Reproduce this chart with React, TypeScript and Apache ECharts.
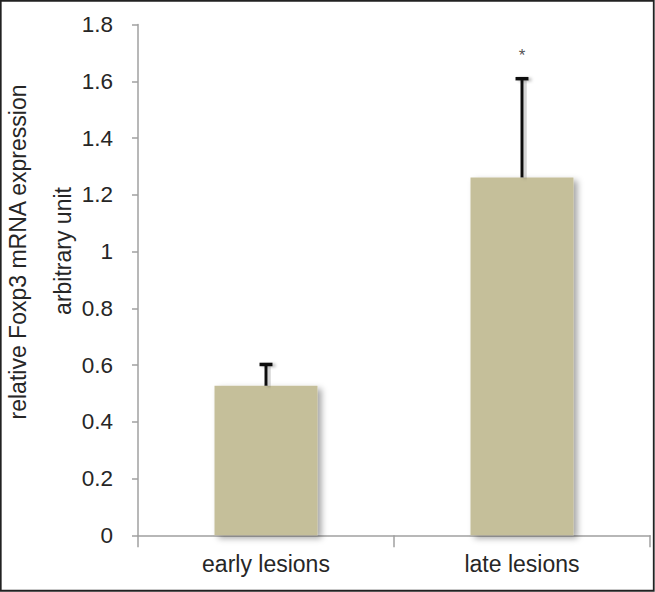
import React, { useEffect, useRef } from "react";
import * as echarts from "echarts";

const categories = ["early lesions", "late lesions"];
const means = [0.527, 1.261];
const upperErrors = [0.602, 1.609];
const significance = ["", "*"];
const significanceY = [0, 1.69];
const yTitleLines = ["relative Foxp3 mRNA expression", "arbitrary unit"];

export default function App() {
  const ref = useRef<HTMLDivElement>(null);
  useEffect(() => {
    if (!ref.current) return;
    const chart = echarts.init(ref.current, null, { renderer: "svg" });
    const font = "'Liberation Sans', Arial, sans-serif";
    const textColor = "#262626";
    const errData = categories.map((c, i) => [c, means[i], upperErrors[i]]);
    const sigData = categories
      .map((c, i) => ({ value: [c, significanceY[i]], mark: significance[i] }))
      .filter((d) => d.mark !== "");
    chart.setOption({
      animation: false,
      backgroundColor: "#ffffff",
      grid: { left: 138, right: 5, top: 24.5, bottom: 56.7, containLabel: false },
      xAxis: {
        type: "category",
        data: categories,
        axisLine: { show: true, lineStyle: { color: "#a0a0a0", width: 1.5 } },
        axisTick: { show: true, length: 12, lineStyle: { color: "#a0a0a0", width: 1.5 } },
        axisLabel: { fontSize: 23, color: textColor, margin: 17, fontFamily: font },
        splitLine: { show: false },
      },
      yAxis: {
        type: "value",
        min: 0,
        max: 1.8,
        interval: 0.2,
        axisLine: { show: true, lineStyle: { color: "#a0a0a0", width: 1.5 } },
        axisTick: { show: true, length: 6, inside: false, lineStyle: { color: "#a0a0a0", width: 1.5 } },
        axisLabel: { fontSize: 22.5, color: textColor, margin: 25, fontFamily: font },
        splitLine: { show: false },
      },
      series: [
        {
          type: "bar",
          data: means,
          barWidth: 103,
          itemStyle: {
            color: "#c5bf9a",
            shadowBlur: 6,
            shadowOffsetX: 4,
            shadowOffsetY: 3,
            shadowColor: "rgba(0,0,0,0.35)",
          },
          z: 2,
        },
        {
          type: "custom",
          data: errData,
          encode: { x: 0, y: [1, 2] },
          clip: false,
          z: 5,
          renderItem: (params: any, api: any) => {
            const idx = params.dataIndex;
            const base = api.coord([idx, api.value(1)]);
            const top = api.coord([idx, api.value(2)]);
            const style = {
              fill: "#111111",
              shadowBlur: 3,
              shadowOffsetX: 3,
              shadowOffsetY: 1,
              shadowColor: "rgba(0,0,0,0.25)",
            };
            return {
              type: "group",
              children: [
                {
                  type: "rect",
                  shape: { x: top[0] - 1.5, y: top[1], width: 3, height: base[1] - top[1] },
                  style,
                },
                {
                  type: "rect",
                  shape: { x: top[0] - 6.5, y: top[1] - 1.75, width: 13, height: 3.5 },
                  style,
                },
              ],
            };
          },
        },
        {
          type: "scatter",
          data: sigData.map((d) => d.value),
          symbolSize: 0,
          z: 4,
          label: {
            show: true,
            position: "inside",
            formatter: (p: any) => sigData[p.dataIndex].mark,
            fontSize: 17,
            color: textColor,
            fontFamily: font,
          },
        },
      ],
      graphic: [
        {
          type: "text",
          x: 18,
          y: 252,
          rotation: Math.PI / 2,
          style: {
            text: yTitleLines[0],
            fontSize: 23,
            fontFamily: font,
            fill: textColor,
            align: "center",
            verticalAlign: "middle",
          },
        },
        {
          type: "text",
          x: 63,
          y: 251,
          rotation: Math.PI / 2,
          style: {
            text: yTitleLines[1],
            fontSize: 23,
            fontFamily: font,
            fill: textColor,
            align: "center",
            verticalAlign: "middle",
          },
        },
        {
          type: "rect",
          shape: { x: 0.75, y: 0.75, width: 653, height: 590 },
          style: { fill: "none", stroke: "#222222", lineWidth: 1.8 },
          silent: true,
        },
      ],
    });
    return () => chart.dispose();
  }, []);
  return (
    <div
      ref={ref}
      style={{ position: "fixed", left: 0, top: 0, width: 655, height: 592 }}
    />
  );
}
